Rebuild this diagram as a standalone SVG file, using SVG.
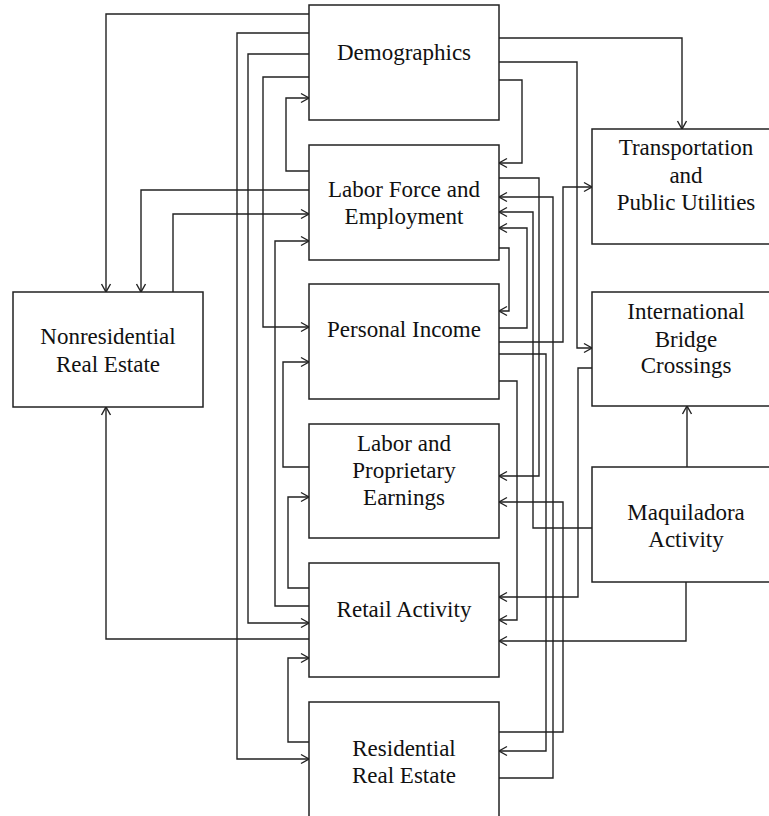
<svg xmlns="http://www.w3.org/2000/svg" width="769" height="816" viewBox="0 0 769 816">
<style>
.box{fill:#fff;stroke:#222;stroke-width:1.5}
.t{font-family:"Liberation Serif","Times New Roman",serif;font-size:23px;fill:#111;text-anchor:middle}
.c{fill:none;stroke:#222;stroke-width:1.4}
.a{marker-end:url(#arr)}
</style>
<defs>
<marker id="arr" viewBox="-10 -6 12 12" refX="0" refY="0" markerWidth="12" markerHeight="12" markerUnits="userSpaceOnUse" orient="auto">
<path d="M-8,-4.5 L0,0 L-8,4.5" fill="none" stroke="#222" stroke-width="1.4"/>
</marker>
</defs>
<rect width="769" height="816" fill="#fff"/>
<g id="connectors">
<path class="c a" d="M309,14 H106 V292"/>
<path class="c a" d="M309,33 H237 V759 H309"/>
<path class="c a" d="M309,54 H248 V623 H309"/>
<path class="c a" d="M309,77 H263 V327 H309"/>
<path class="c a" d="M309,171 H286 V98 H309"/>
<path class="c a" d="M309,190 H141 V292"/>
<path class="c a" d="M173,292 V214 H309"/>
<path class="c a" d="M309,606 H275 V241 H309"/>
<path class="c a" d="M309,467 H283 V362 H309"/>
<path class="c a" d="M309,588 H288 V497 H309"/>
<path class="c a" d="M309,742 H288 V658 H309"/>
<path class="c a" d="M309,639 H106 V407"/>
<path class="c a" d="M499,38 H682 V129"/>
<path class="c a" d="M499,62 H577 V348 H592"/>
<path class="c a" d="M499,80 H522 V163 H499"/>
<path class="c a" d="M499,178 H539 V476 H499"/>
<path class="c a" d="M499,778 H553 V197 H499"/>
<path class="c a" d="M592,528 H533 V212 H499"/>
<path class="c a" d="M499,328 H527 V228 H499"/>
<path class="c a" d="M499,248 H509 V311 H499"/>
<path class="c a" d="M499,342 H563 V187 H592"/>
<path class="c a" d="M499,354 H546 V751 H499"/>
<path class="c a" d="M499,381 H517 V620 H499"/>
<path class="c a" d="M592,368 H578 V597 H499"/>
<path class="c a" d="M499,732 H563 V502 H499"/>
<path class="c a" d="M687,467 V406"/>
<path class="c a" d="M686,582 V641 H499"/>
</g>
<g id="demographics">
<rect class="box" x="309" y="5" width="190" height="115"/>
<text class="t" x="404" y="60">Demographics</text>
</g>
<g id="labor-force">
<rect class="box" x="309" y="145" width="190" height="115"/>
<text class="t" x="404" y="197">Labor Force and</text>
<text class="t" x="404" y="224">Employment</text>
</g>
<g id="personal-income">
<rect class="box" x="309" y="284" width="190" height="115"/>
<text class="t" x="404" y="337">Personal Income</text>
</g>
<g id="labor-proprietary">
<rect class="box" x="309" y="424" width="190" height="114"/>
<text class="t" x="404" y="451">Labor and</text>
<text class="t" x="404" y="478">Proprietary</text>
<text class="t" x="404" y="505">Earnings</text>
</g>
<g id="retail">
<rect class="box" x="309" y="563" width="190" height="114"/>
<text class="t" x="404" y="617">Retail Activity</text>
</g>
<g id="residential">
<rect class="box" x="309" y="702" width="190" height="130"/>
<text class="t" x="404" y="756">Residential</text>
<text class="t" x="404" y="783">Real Estate</text>
</g>
<g id="nonresidential">
<rect class="box" x="13" y="292" width="190" height="115"/>
<text class="t" x="108" y="344">Nonresidential</text>
<text class="t" x="108" y="372">Real Estate</text>
</g>
<g id="transportation">
<rect class="box" x="592" y="129" width="190" height="115"/>
<text class="t" x="686" y="155">Transportation</text>
<text class="t" x="686" y="183">and</text>
<text class="t" x="686" y="210">Public Utilities</text>
</g>
<g id="bridge">
<rect class="box" x="592" y="292" width="190" height="114"/>
<text class="t" x="686" y="319">International</text>
<text class="t" x="686" y="347">Bridge</text>
<text class="t" x="686" y="373">Crossings</text>
</g>
<g id="maquiladora">
<rect class="box" x="592" y="467" width="190" height="115"/>
<text class="t" x="686" y="520">Maquiladora</text>
<text class="t" x="686" y="547">Activity</text>
</g>
</svg>
